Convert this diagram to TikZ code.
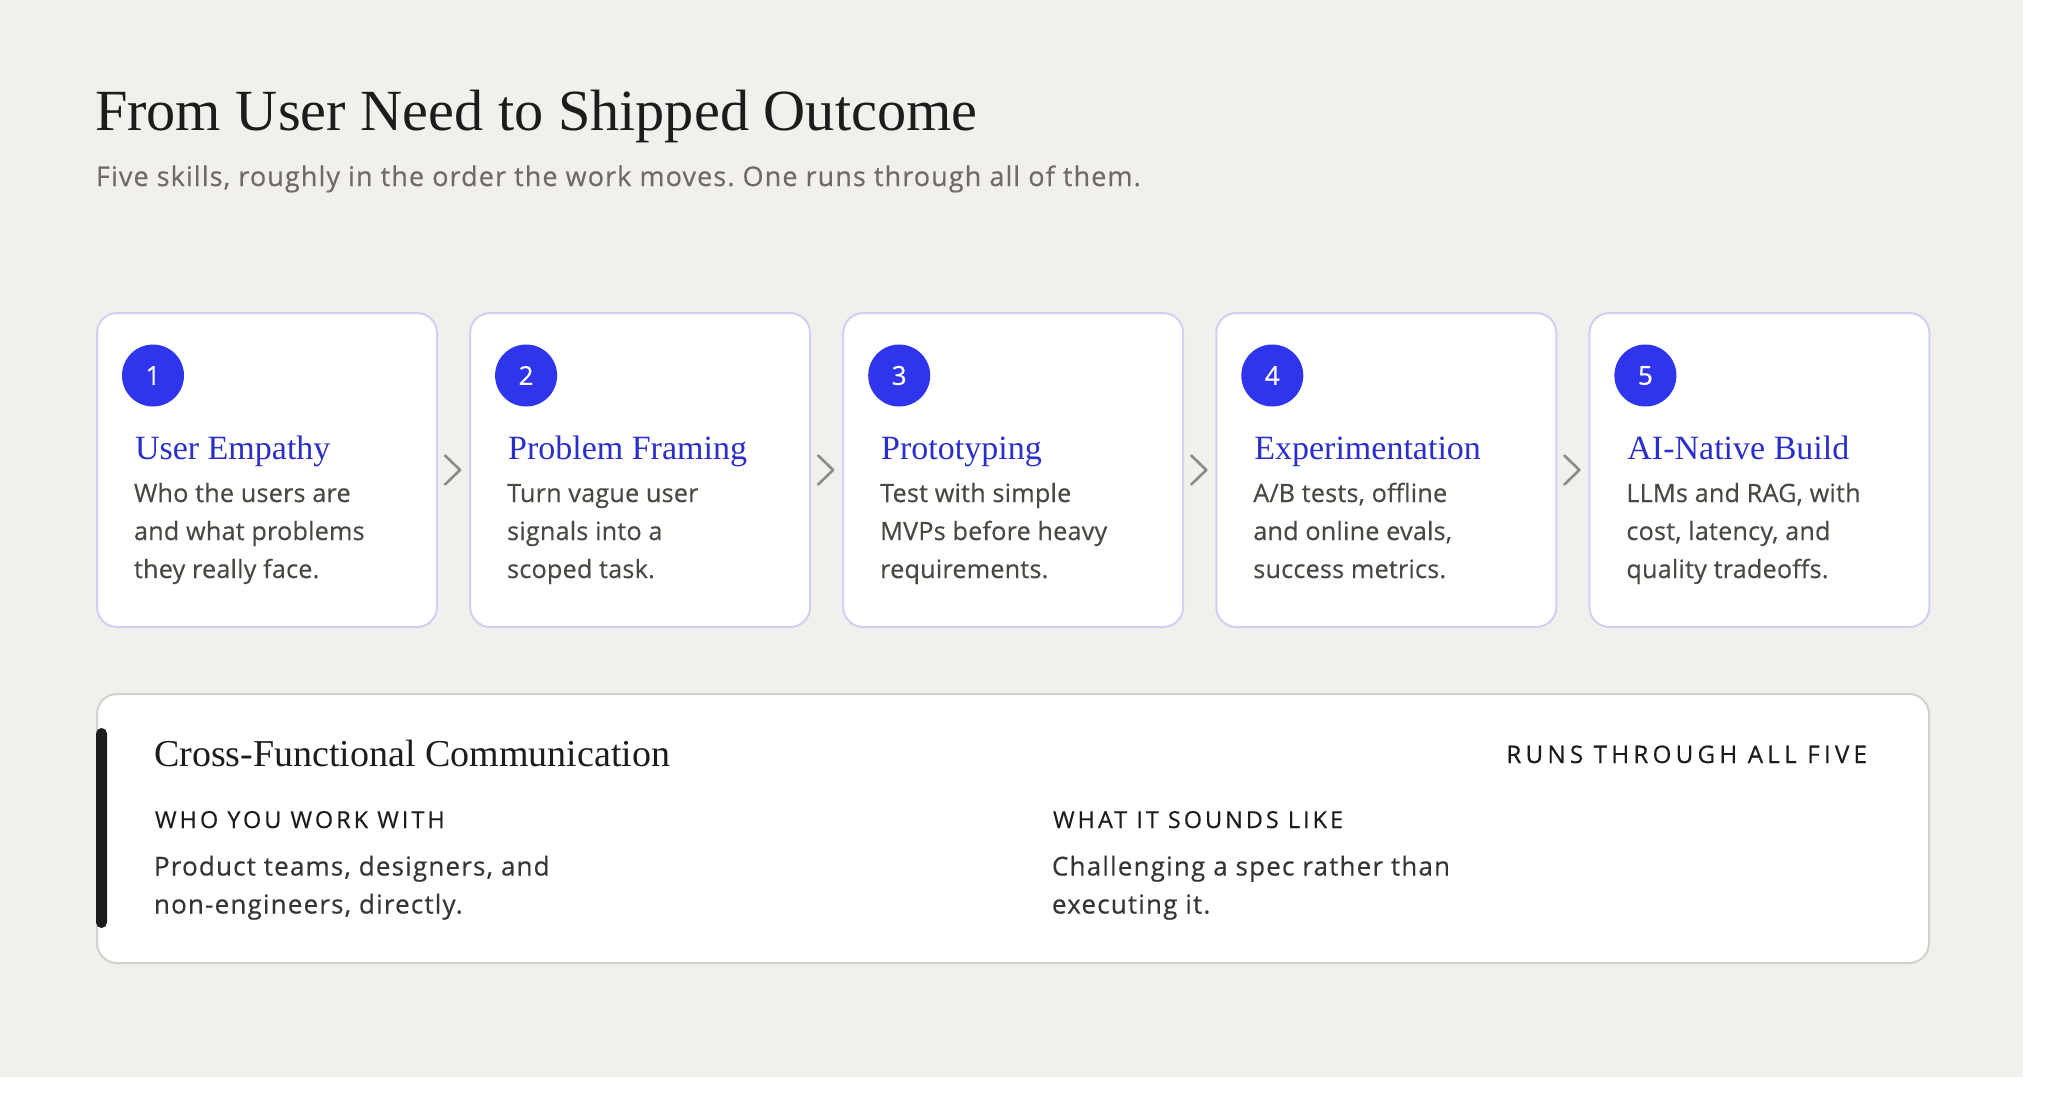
\documentclass[tikz,border=0pt]{standalone}
\usepackage{fontspec}
\setmainfont{Liberation Serif}
\newfontfamily\seriffont{Liberation Serif}
\newfontfamily\sansfont[FakeBold=0.6]{Open Sans}
\newfontfamily\descfont[FakeBold=0.4,LetterSpace=0.8]{Open Sans}
\newfontfamily\subfont[FakeBold=0.4,LetterSpace=4]{Open Sans}
\newfontfamily\panelfont[FakeBold=0.4,LetterSpace=4.5]{Open Sans}
\newfontfamily\capsfont[FakeBold=0.4,LetterSpace=13]{Open Sans}
\newfontfamily\runsfont[FakeBold=0.4,LetterSpace=17.5]{Open Sans}
\usetikzlibrary{calc}
\definecolor{pagebg}{HTML}{F1F0EC}
\definecolor{skillblue}{HTML}{2F35EC}
\definecolor{titleblue}{HTML}{2B2FC9}
\definecolor{cardborder}{HTML}{D0D0F5}
\definecolor{desctext}{HTML}{4A4843}
\definecolor{subgray}{HTML}{6E6B66}
\definecolor{chevgray}{HTML}{8C8A86}
\definecolor{panelborder}{HTML}{D2D1CD}
\definecolor{ink}{HTML}{1C1C1C}
\definecolor{paneltext}{HTML}{363532}
\tikzset{
  txt/.style={anchor=base west, inner sep=0pt, outer sep=0pt},
  cardbox/.style={draw=cardborder, line width=2pt, fill=white, rounded corners=20pt,
    minimum width=340pt, minimum height=314pt, inner sep=0pt, anchor=north west},
  numdot/.style={circle, fill=skillblue, minimum size=62pt, inner sep=0pt,
    text=white, font=\sansfont\fontsize{26}{26}\selectfont},
  cardtitle/.style={txt, text=titleblue, font=\seriffont\fontsize{34}{36}\selectfont},
  carddesc/.style={txt, text=desctext, font=\descfont\fontsize{25.2}{27}\selectfont},
  chevron/.style={draw=chevgray, line width=2.6pt, line cap=round, line join=round},
  capslabel/.style={txt, text=ink, font=\capsfont\fontsize{23.4}{25}\selectfont},
  paneldesc/.style={txt, text=paneltext, font=\panelfont\fontsize{26}{28}\selectfont},
}
\begin{document}
\frenchspacing
\begin{tikzpicture}[x=1pt,y=-1pt]
\useasboundingbox (0,0) rectangle (2048,1101);
\fill[white] (0,0) rectangle (2048,1101);
\fill[pagebg] (0,0) rectangle (2023,1077);

\node[txt, text=ink, font=\seriffont\fontsize{58.3}{60}\selectfont] (title) at (95,130) {From User Need to Shipped Outcome};
\node[txt, text=subgray, font=\subfont\fontsize{27}{29}\selectfont] (subtitle) at (96,186) {Five skills, roughly in the order the work moves. One runs through all of them.};

% cards
\foreach \i/\ttl/\la/\lb/\lc [evaluate=\i as \lx using {96+373.1*(\i-1)}] in {
  1/User Empathy/Who the users are/and what problems/they really face.,
  2/Problem Framing/Turn vague user/signals into a/scoped task.,
  3/Prototyping/Test with simple/MVPs before heavy/requirements.,
  4/Experimentation/A\slash B tests{,} offline/and online evals{,}/success metrics.,
  5/AI-Native Build/LLMs and RAG{,} with/cost{,} latency{,} and/quality tradeoffs.}{
  \node[cardbox] (card\i) at (\lx,312) {};
  \node[numdot] (num\i) at (\lx+57,375.5) {\i};
  \node[cardtitle] (ctitle\i) at (\lx+39,459) {\ttl};
  \node[carddesc] (cdA\i) at (\lx+38,502) {\la};
  \node[carddesc] (cdB\i) at (\lx+38,540) {\lb};
  \node[carddesc] (cdC\i) at (\lx+38,578) {\lc};
}

% chevrons between cards
\foreach \a/\b in {1/2,2/3,3/4,4/5}{
  \coordinate (gap\a) at ($(card\a.east)!0.5!(card\b.west)$);
  \draw[chevron] ([shift={(-8.5,-14.5)}]gap\a) -- ([shift={(6.5,0)}]gap\a) -- ([shift={(-8.5,14.5)}]gap\a);
}

% panel
\fill[panelborder!70, rounded corners=20pt] (98,697) rectangle (1926,964);
\node[draw=panelborder, line width=2pt, fill=white, rounded corners=20pt, anchor=north west,
  minimum width=1832pt, minimum height=269pt, inner sep=0pt] (panel) at (96,693) {};
\fill[ink, rounded corners=5.5pt] (96,728) rectangle (107,928);

\node[txt, text=ink, font=\seriffont\fontsize{38}{40}\selectfont] (ptitle) at (154,766) {Cross-Functional Communication};
\node[txt, text=ink, font=\runsfont\fontsize{24.2}{26}\selectfont, anchor=base east] (runs) at (1867,763) {RUNS THROUGH ALL FIVE};
\node[capslabel] (who) at (155,828) {WHO YOU WORK WITH};
\node[paneldesc] (whoA) at (154,875.5) {Product teams, designers, and};
\node[paneldesc] (whoB) at (154,913.5) {non-engineers, directly.};
\node[capslabel] (what) at (1053,828) {WHAT IT SOUNDS LIKE};
\node[paneldesc] (whatA) at (1052,875.5) {Challenging a spec rather than};
\node[paneldesc] (whatB) at (1052,913.5) {executing it.};
\end{tikzpicture}
\end{document}
